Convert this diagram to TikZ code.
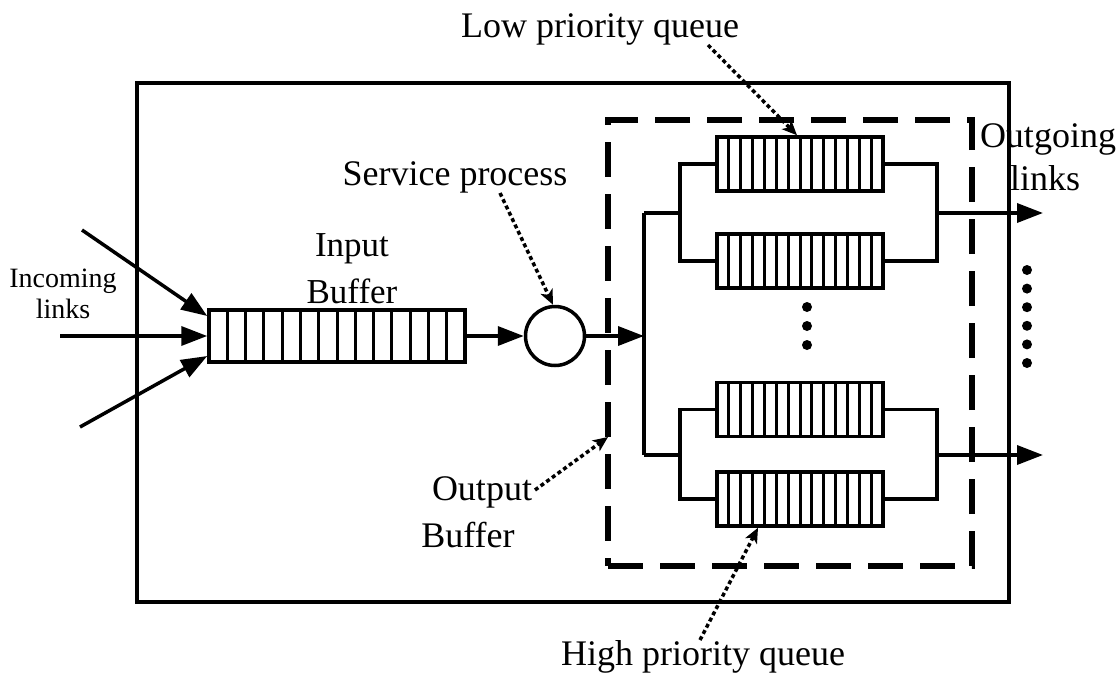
\documentclass[tikz,border=0pt]{standalone}
\usepackage{fontspec}
\setmainfont{Liberation Serif}
\usetikzlibrary{arrows.meta,calc}

\begin{document}
\begin{tikzpicture}[x=1pt,y=-1pt,
  line/.style={line width=3.5pt},
  arr/.style={line width=3.5pt,-{Triangle[length=26pt,width=19pt]}},
  ptr/.style={line width=3.5pt,dash pattern=on 4pt off 3pt,
              -{Stealth[length=15pt,width=13pt,inset=4pt]}},
  lbl/.style={font=\fontsize{36}{40}\selectfont,anchor=base,inner sep=0pt},
  smalllbl/.style={font=\fontsize{28}{32}\selectfont,anchor=base,inner sep=0pt},
  fifo/.style n args={3}{draw,line width=3.5pt,minimum width=#1,minimum height=#2,
    inner sep=0pt,
    path picture={
      \pgfmathtruncatemacro\lastdiv{#3-1}
      \foreach \k in {1,...,\lastdiv}{
        \draw[line width=3pt]
          ($(path picture bounding box.north west)!{\k/#3}!(path picture bounding box.north east)$)
          -- ($(path picture bounding box.south west)!{\k/#3}!(path picture bounding box.south east)$);
      }}},
  dot/.style={circle,fill,inner sep=0pt,minimum size=10pt}
]
\useasboundingbox (0,0) rectangle (1120,675);

% switch enclosure and output-buffer region
\node[draw,line width=3.5pt,minimum width=872pt,minimum height=519pt,inner sep=0pt] (router) at (573,342.5) {};
\node[draw,line width=5.5pt,dash pattern=on 35pt off 17pt,minimum width=364pt,minimum height=446pt,inner sep=0pt] (obuf) at (790,343) {};

% input buffer and server
\node[fifo={256pt}{52pt}{14}] (ibuf) at (337,336) {};
\node[draw,circle,line width=3.5pt,minimum size=59pt,inner sep=0pt] (srv) at (555,336) {};

% output queues
\node[fifo={166pt}{54pt}{14}] (q1) at (800,164) {};
\node[fifo={166pt}{54pt}{14}] (q2) at (800,261) {};
\node[fifo={166pt}{54pt}{14}] (q3) at (800,409.5) {};
\node[fifo={166pt}{54pt}{14}] (q4) at (800,499) {};

% junction points
\coordinate (tA) at (644,213);
\coordinate (tB) at (644,455);
\coordinate (tIn) at (644,336);
\coordinate (uL) at (680,213);
\coordinate (lL) at (680,455);
\coordinate (uR) at (937,213);
\coordinate (lR) at (937,455);
\coordinate (outU) at (1043,213);
\coordinate (outL) at (1043,455);

% incoming links
\coordinate (src1) at (82,230);
\coordinate (src2) at (60,336);
\coordinate (src3) at (80,427);
\draw[arr] (src1) -- ([yshift=20pt]ibuf.west);
\draw[arr] (src2) -- (ibuf.west);
\draw[arr] (src3) -- ([yshift=-20pt]ibuf.west);

% buffer -> server -> distribution trunk
\draw[arr] (ibuf.east) -- (srv.west);
\draw[arr] (srv.east) -- (tIn);
\draw[line] (tA) -- (tB);
\draw[line] (tA) -- (uL);
\draw[line] (tB) -- (lL);
\draw[line] (q1.west) -| (uL) |- (q2.west);
\draw[line] (q3.west) -| (lL) |- (q4.west);
\draw[line] (q1.east) -| (uR) |- (q2.east);
\draw[line] (q3.east) -| (lR) |- (q4.east);
\draw[arr] (uR) -- (outU);
\draw[arr] (lR) -- (outL);

% ellipsis dots
\node[dot] (m1) at (807,307) {};
\node[dot] (m2) at (807,326) {};
\node[dot] (m3) at (807,345) {};
\foreach \i in {0,...,5}{
  \node[dot] (r\i) at (1027,{270+18.6*\i}) {};
}

% labels
\node[lbl] (lowq) at (600,37) {Low priority queue};
\node[lbl] (svc) at (455,185) {Service process};
\node[lbl,font=\fontsize{35}{40}\selectfont] (inb1) at (352,256) {Input};
\node[lbl,font=\fontsize{35}{40}\selectfont] (inb2) at (352,303) {Buffer};
\node[lbl] (outb1) at (482,500) {Output};
\node[lbl] (outb2) at (468,547) {Buffer};
\node[lbl] (highq) at (703,665) {High priority queue};
\node[lbl] (outl1) at (1048,147) {Outgoing};
\node[lbl] (outl2) at (1045,190) {links};
\node[smalllbl] (inl1) at (63,287) {Incoming};
\node[smalllbl] (inl2) at (63,318) {links};

% pointers from labels
\coordinate (pLow) at (708,45);
\coordinate (pSvc) at (500,193);
\coordinate (pOut) at (535,490);
\coordinate (pHigh) at (700,640);
\coordinate (eOut) at (608,437);
\draw[ptr] (pLow) -- ([xshift=-3pt]q1.north);
\draw[ptr] (pSvc) -- ([xshift=-2pt]srv.north);
\draw[ptr] (pOut) -- (eOut);
\draw[ptr] (pHigh) -- ([xshift=-42pt]q4.south);
\end{tikzpicture}
\end{document}
